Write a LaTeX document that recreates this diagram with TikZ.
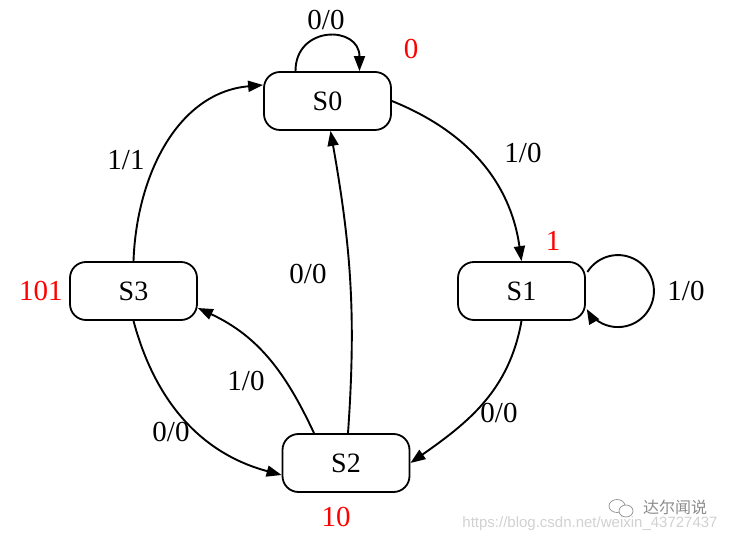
\documentclass[tikz,border=0pt]{standalone}
\usepackage{fontspec}
\setmainfont{Liberation Serif}
\newfontfamily\wmsans{Liberation Sans}
\newfontfamily\cjk{Noto Sans CJK SC}
\usetikzlibrary{arrows.meta,calc}
\begin{document}
\begin{tikzpicture}[x=1pt,y=1pt,
  state/.style={draw,line width=1.8pt,rounded corners=16pt,minimum width=127pt,minimum height=58pt,inner sep=0pt,font=\fontsize{28}{30}\selectfont},
  lbl/.style={font=\fontsize{29}{32}\selectfont},
  code/.style={font=\fontsize{29}{32}\selectfont,text=red},
  edge/.style={line width=1.9pt,-{Triangle[length=15pt,width=11pt]}},
  ]
\useasboundingbox (0,0) rectangle (734,541);
\node[state] (S0) at (327.5,440) {S0};
\node[state] (S1) at (521.5,250) {S1};
\node[state] (S2) at (346,78) {S2};
\node[state] (S3) at (133.5,250) {S3};
% output codes
\node[code] (c0) at (411,492) {0};
\node[code] (c1) at (553,300) {1};
\node[code] (c2) at (336,24) {10};
\node[code] (c3) at (41,250) {101};
% edges
\draw[edge] ($(S0.north)+(-32,0)$) .. controls +(0,46) and +(0,46) .. ($(S0.north)+(32,0)$);
\node[lbl] (l00) at (326,521) {0/0};
\draw[edge] (S0.east) to[out=-22,in=98] (S1.north);
\node[lbl] (l01) at (523,388) {1/0};
\draw[edge] ($(S1.east)+(1.5,19)$) arc[start angle=148,end angle=-150,radius=36];
\node[lbl] (l11) at (686,250) {1/0};
\draw[edge] (S1.south) to[out=-100,in=35] (S2.east);
\node[lbl] (l12) at (499,128) {0/0};
\draw[edge] ($(S2.north)+(2,0)$) to[out=86,in=-80] ($(S0.south)+(3,0)$);
\node[lbl] (l20) at (308,267) {0/0};
\draw[edge] ($(S2.north)+(-32,0)$) to[out=115,in=-25] ($(S3.east)+(0,-17)$);
\node[lbl] (l23) at (246,160) {1/0};
\draw[edge] (S3.south) to[out=-75,in=165] ($(S2.west)+(0,-12)$);
\node[lbl] (l32) at (171,109) {0/0};
\draw[edge] (S3.north) to[out=88,in=185] ($(S0.west)+(0,16)$);
\node[lbl] (l30) at (126,381) {1/1};
% watermark
\node[text=black!45,font=\cjk\fontsize{16}{18}\selectfont] (wm1) at (675,34) {达尔闻说};
\draw[black!40,line width=0.8pt] (617,35) ellipse (8pt and 6.5pt);
\draw[black!40,line width=0.8pt,fill=white] (626,30) ellipse (7pt and 6pt);
\node[text=black!18,font=\wmsans\fontsize{15}{18}\selectfont] (wm2) at (590,17) {https://blog.csdn.net/weixin\_43727437};
\end{tikzpicture}
\end{document}
